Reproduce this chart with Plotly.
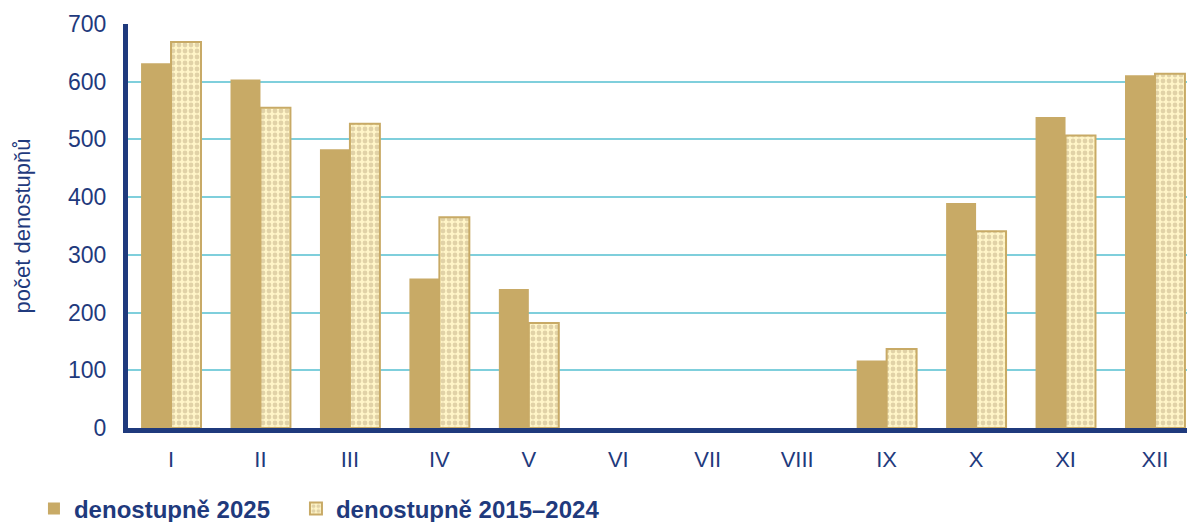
import plotly.graph_objects as go

months = ["I", "II", "III", "IV", "V", "VI", "VII", "VIII", "IX", "X", "XI", "XII"]
deg_2025 = [632, 604, 483, 259, 241, 0, 0, 0, 117, 390, 539, 611]
deg_avg = [669, 555, 527, 365, 182, 0, 0, 0, 137, 341, 507, 614]
y_ticks = [0, 100, 200, 300, 400, 500, 600, 700]

navy = "#1F3A7D"
tan = "#C8AA66"
FONT = "Liberation Sans, Arial, sans-serif"

fig = go.Figure()
fig.add_trace(go.Bar(
    x=months, y=deg_2025, name="denostupně 2025",
    marker=dict(color=tan, line=dict(width=0)),
    legend="legend",
))
fig.add_trace(go.Bar(
    x=months, y=deg_avg, name="denostupně 2015–2024",
    marker=dict(
        color="#FFF6CC",
        line=dict(color=tan, width=[2 if v > 0 else 0 for v in deg_avg]),
        pattern=dict(shape=".", fgcolor="#C4AF86", bgcolor="#FFF5C8", size=6, solidity=0.5, fillmode="overlay"),
    ),
    legend="legend2",
))

legend_font = dict(size=24, color=navy, family=FONT, weight="bold")
fig.update_layout(
    width=1187, height=522,
    margin=dict(l=128, r=0, t=24, b=94, autoexpand=False),
    paper_bgcolor="white", plot_bgcolor="white",
    barmode="group", bargap=0.33, bargroupgap=0,
    font=dict(family=FONT, color=navy),
    legend=dict(x=-0.0888, y=-0.2005, xanchor="left", yanchor="middle",
                font=legend_font, bgcolor="rgba(0,0,0,0)"),
    legend2=dict(x=0.1586, y=-0.2005, xanchor="left", yanchor="middle",
                 font=legend_font, bgcolor="rgba(0,0,0,0)"),
    showlegend=True,
)
fig.update_xaxes(
    range=[-0.481, 11.358],
    showline=True, linecolor=navy, linewidth=5, showgrid=False,
    ticks="outside", ticklen=8, tickcolor="rgba(0,0,0,0)",
    tickfont=dict(size=22, color=navy),
)
fig.update_yaxes(
    range=[0, 700], tickvals=y_ticks, showline=True, linecolor=navy, linewidth=5,
    showgrid=True, gridcolor="#7FCFDC", gridwidth=2, zeroline=False,
    tickfont=dict(size=23, color=navy),
    ticks="outside", ticklen=12, tickcolor="rgba(0,0,0,0)",
    title=dict(text="počet denostupňů", font=dict(size=22, color=navy), standoff=33),
)
fig.write_html("out.html", config={"displayModeBar": False},
               post_script="document.body.style.margin='0';")
